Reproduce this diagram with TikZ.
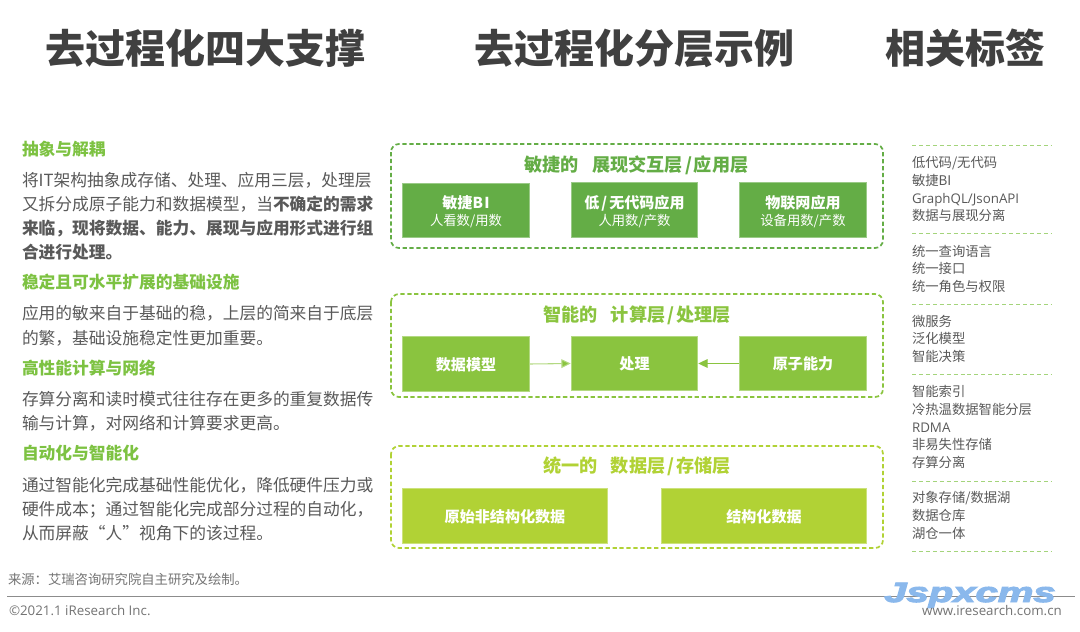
\documentclass[tikz,border=0pt]{standalone}
\usepackage{fontspec}
\setmainfont{Noto Sans CJK SC}
\newfontfamily\latinfont{Open Sans}
\newfontfamily\markfont{Liberation Sans}[BoldItalicFeatures={FakeBold=3.5}]
\usetikzlibrary{arrows.meta}
\definecolor{cdark}{HTML}{64AD46}
\definecolor{cmid}{HTML}{8AC43F}
\definecolor{clight}{HTML}{B1D235}
\definecolor{chead}{HTML}{7DC242}
\definecolor{ctext}{HTML}{595959}
\definecolor{ctitle}{HTML}{404040}
\newcommand{\fsz}[1]{\fontsize{#1}{#1}\selectfont}
\newcommand{\sla}{\kern1.5pt/\kern1.5pt}
\tikzset{
  txt/.style={inner sep=0pt,outer sep=0pt},
  em30/.style={text height=26.4pt,text depth=3.6pt},
  em136/.style={text height=12pt,text depth=1.6pt},
  em126/.style={text height=11.1pt,text depth=1.5pt},
  em113/.style={text height=9.9pt,text depth=1.4pt},
  em10/.style={text height=8.8pt,text depth=1.2pt},
  maintitle/.style={txt,em30,font=\fsz{30pt}\bfseries,text=ctitle},
  lefthead/.style={txt,em126,anchor=west,font=\fsz{12.55pt}\bfseries,text=chead},
  leftbody/.style={txt,em126,anchor=west,font=\fsz{12.55pt},text=ctext},
  tagtext/.style={txt,em10,anchor=west,font=\fsz{10pt},text=ctext},
  tagrule/.style={draw=chead!70,line width=.7pt,dash pattern=on 3pt off 2.2pt},
  layerbox/.style={draw=#1,line width=1.3pt,rounded corners=6pt,dash pattern=on 3.2pt off 2pt},
  layertitle/.style={txt,em136,font=\fsz{13.6pt}\bfseries,text=#1},
  card/.style={draw=#1!65,line width=.6pt,fill=#1,minimum height=41pt,inner sep=0pt},
  cardtext/.style={txt,em113,font=\fsz{11.3pt}\bfseries,text=white},
  cardsub/.style={txt,em10,font=\fsz{10pt},text=white},
}
\begin{document}
\begin{tikzpicture}[x=0.75pt,y=-0.75pt]
\useasboundingbox (0,0) rectangle (1080,631);
% titles
\node[maintitle] (t1) at (205.5,48) {去过程化四大支撑};
\node[maintitle] (t2) at (634,48) {去过程化分层示例};
\node[maintitle] (t3) at (965,48) {相关标签};
% left column
\node[lefthead] (h1) at (22,149) {抽象与解耦};
\node[leftbody] (l1) at (22,180) {将IT架构抽象成存储、处理、应用三层，处理层};
\node[leftbody] (l2) at (22,204) {又拆分成原子能力和数据模型，当\textbf{不确定的需求}};
\node[leftbody,font=\fsz{12.55pt}\bfseries] (l3) at (22,228) {来临，现将数据、能力、展现与应用形式进行组};
\node[leftbody,font=\fsz{12.55pt}\bfseries] (l4) at (22,252) {合进行处理。};
\node[lefthead] (h2) at (22,282) {稳定且可水平扩展的基础设施};
\node[leftbody] (l5) at (22,313) {应用的敏来自于基础的稳，上层的简来自于底层};
\node[leftbody] (l6) at (22,338) {的繁，基础设施稳定性更加重要。};
\node[lefthead] (h3) at (22,368) {高性能计算与网络};
\node[leftbody] (l7) at (22,399) {存算分离和读时模式往往存在更多的重复数据传};
\node[leftbody] (l8) at (22,423) {输与计算，对网络和计算要求更高。};
\node[lefthead] (h4) at (22,453) {自动化与智能化};
\node[leftbody] (l9) at (22,485) {通过智能化完成基础性能优化，降低硬件压力或};
\node[leftbody] (l10) at (22,509) {硬件成本；通过智能化完成部分过程的自动化，};
\node[leftbody] (l11) at (22,533) {从而屏蔽“人”视角下的该过程。};
% layer 1
\draw[layerbox=cdark] (391,144) rectangle (883,248);
\node[layertitle=cdark] (b1t) at (636.5,165) {敏捷的\hspace{10pt}展现交互层\sla 应用层};
\node[card=cdark,minimum width=95pt] (a1) at (466,210.5) {};
\node[card=cdark,minimum width=95pt] (a2) at (634.5,210) {};
\node[card=cdark,minimum width=95pt] (a3) at (803,210) {};
\node[cardtext] (a1a) at (466,203) {敏捷B\kern1pt I};
\node[cardsub] (a1b) at (466,220.5) {人看数/用数};
\node[cardtext] (a2a) at (634.5,203) {低\sla 无代码应用};
\node[cardsub] (a2b) at (634.5,220.5) {人用数/产数};
\node[cardtext] (a3a) at (803,203) {物联网应用};
\node[cardsub] (a3b) at (803,220.5) {设备用数/产数};
% layer 2
\draw[layerbox=cmid] (391,294) rectangle (883,397);
\node[layertitle=cmid] (b2t) at (637,315) {智能的\hspace{10pt}计算层\sla 处理层};
\node[card=cmid,minimum width=95pt] (c1) at (466,364) {};
\node[card=cmid,minimum width=95pt] (c2) at (634.5,363.5) {};
\node[card=cmid,minimum width=95pt] (c3) at (803,363.5) {};
\node[cardtext] at (466,364.5) (c1a) {数据模型};
\node[cardtext] at (634.5,364) (c2a) {处理};
\node[cardtext] at (803,364) (c3a) {原子能力};
\draw[draw=cmid!65,line width=.8pt,-{Triangle[length=7pt,width=6.5pt,fill=cmid]}] (c1.east) -- (c2.west);
\draw[draw=cmid,line width=.8pt,-{Triangle[length=7pt,width=6.5pt,fill=cmid]}] (c3.west) -- (c2.east);
% layer 3
\draw[layerbox=clight] (391,446) rectangle (883,548);
\node[layertitle=clight] (b3t) at (637,466) {统一的\hspace{10pt}数据层\sla 存储层};
\node[card=clight,minimum width=154pt] (d1) at (505,516) {};
\node[card=clight,minimum width=154pt] (d2) at (764,516) {};
\node[cardtext] (d1a) at (505,516.5) {原始非结构化数据};
\node[cardtext] (d2a) at (764,516.5) {结构化数据};
% tag column
\draw[tagrule] (912,145) -- (1052,145);
\draw[tagrule] (912,233) -- (1052,233);
\draw[tagrule] (912,304) -- (1052,304);
\draw[tagrule] (912,374) -- (1052,374);
\draw[tagrule] (912,481) -- (1052,481);
\draw[tagrule] (912,551) -- (1052,551);
\node[tagtext] (g1) at (912,162) {低代码/无代码};
\node[tagtext] (g2) at (912,180) {敏捷BI};
\node[tagtext,font=\fsz{10pt}\latinfont] (g3) at (912,198) {GraphQL/JsonAPI};
\node[tagtext] (g4) at (912,215) {数据与展现分离};
\node[tagtext] (g5) at (912,251) {统一查询语言};
\node[tagtext] (g6) at (912,268) {统一接口};
\node[tagtext] (g7) at (912,286) {统一角色与权限};
\node[tagtext] (g8) at (912,321) {微服务};
\node[tagtext] (g9) at (912,338) {泛化模型};
\node[tagtext] (g10) at (912,356) {智能决策};
\node[tagtext] (g11) at (912,391) {智能索引};
\node[tagtext] (g12) at (912,409) {冷热温数据智能分层};
\node[tagtext,font=\fsz{10pt}\latinfont] (g13) at (912,427) {RDMA};
\node[tagtext] (g14) at (912,444) {非易失性存储};
\node[tagtext] (g15) at (912,462) {存算分离};
\node[tagtext] (g16) at (912,497) {对象存储/数据湖};
\node[tagtext] (g17) at (912,515) {数据仓库};
\node[tagtext] (g18) at (912,533) {湖仓一体};
% footer
\draw[draw=black!45,line width=.9pt] (7,596.5) -- (1075,596.5);
\node[tagtext,text=black!55] (src) at (8,579) {来源：艾瑞咨询研究院自主研究及绘制。};
\node[tagtext,text=black!55,font=\fsz{10pt}\latinfont] (copy) at (9,610) {©2021.1 iResearch Inc.};
\node[inner sep=0pt,outer sep=0pt,text height=15pt,text depth=3pt,font=\fsz{21pt}\markfont\bfseries\itshape,xscale=1.43,text={rgb,255:red,138;green,184;blue,236}] (mark) at (970,594) {Jspxcms};
\node[txt,em10,text=black!55,font=\fsz{10pt}\latinfont] (web) at (992,610.5) {www.iresearch.com.cn};
\end{tikzpicture}
\end{document}
